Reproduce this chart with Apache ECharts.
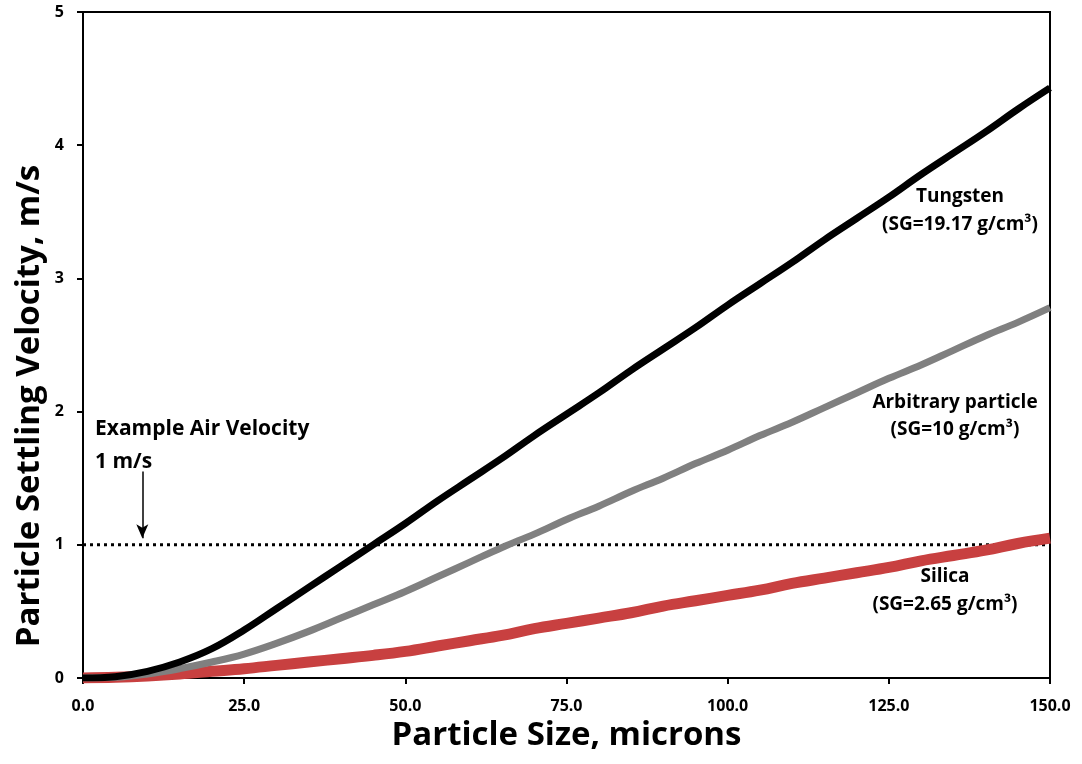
<!DOCTYPE html>
<html>
<head>
<meta charset="utf-8">
<script src="https://cdn.jsdelivr.net/npm/echarts@6/dist/echarts.min.js"></script>
<style>
  html, body { margin: 0; padding: 0; background: #fff; }
  #chart { width: 1082px; height: 764px; }
</style>
</head>
<body>
<div id="chart"></div>
<script>
// particle size, microns
const sizes = [0, 5, 10, 15, 20, 25, 30, 35, 40, 45, 50, 55, 60, 65, 70, 75,
  80, 85, 90, 95, 100, 105, 110, 115, 120, 125, 130, 135, 140, 145, 150];

// settling velocity, m/s
const tungsten = [0, 0.01, 0.05, 0.12, 0.22, 0.36, 0.52, 0.68, 0.84, 1.0, 1.16, 1.33, 1.49, 1.65, 1.82, 1.98,
  2.14, 2.31, 2.47, 2.63, 2.8, 2.96, 3.12, 3.29, 3.45, 3.61, 3.78, 3.94, 4.1, 4.27, 4.43];
const arbitrary = [0, 0.005, 0.03, 0.07, 0.12, 0.18, 0.26, 0.35, 0.45, 0.55, 0.65, 0.76, 0.87, 0.98, 1.08, 1.19,
  1.29, 1.4, 1.5, 1.61, 1.71, 1.82, 1.92, 2.03, 2.14, 2.25, 2.35, 2.46, 2.57, 2.67, 2.78];
const silica = [0, 0.005, 0.015, 0.03, 0.05, 0.07, 0.095, 0.12, 0.145, 0.17, 0.2, 0.24, 0.28, 0.32, 0.37, 0.41,
  0.45, 0.49, 0.54, 0.58, 0.62, 0.66, 0.71, 0.75, 0.79, 0.83, 0.88, 0.92, 0.96, 1.01, 1.05];

const airVelocity = 1;
const arrowX = 9.2;

const FONT = 'Open Sans';

function pairs(ys) {
  return sizes.map((x, i) => [x, ys[i]]);
}

function note(x, y, text, size, align) {
  return {
    type: 'text', x: x, y: y,
    style: { text: text, align: align || 'center', verticalAlign: 'middle', fontFamily: FONT, fontWeight: 'bold', fontSize: size, fill: '#000' }
  };
}

const myChart = echarts.init(document.getElementById('chart'));

const option = {
  backgroundColor: '#fff',
  animation: false,
  grid: {
    left: 83, top: 12, right: 32, bottom: 86,
    show: true, borderColor: '#000', borderWidth: 2
  },
  xAxis: {
    type: 'value', min: 0, max: 150, interval: 25,
    name: 'Particle Size, microns',
    nameLocation: 'middle', nameGap: 14,
    nameTextStyle: { fontFamily: FONT, fontWeight: 'bold', fontSize: 33, color: '#000' },
    axisLine: { lineStyle: { color: '#000', width: 2 } },
    axisTick: { inside: false, length: 6, lineStyle: { color: '#000', width: 2 } },
    axisLabel: {
      margin: 20, fontFamily: FONT, fontWeight: 'bold', fontSize: 16, color: '#000',
      formatter: v => v.toFixed(1)
    },
    splitLine: { show: false }
  },
  yAxis: {
    type: 'value', min: 0, max: 5, interval: 1,
    axisLine: { show: true, lineStyle: { color: '#000', width: 2 } },
    axisTick: { show: true, length: 6, lineStyle: { color: '#000', width: 2 } },
    axisLabel: { margin: 19, fontFamily: FONT, fontWeight: 'bold', fontSize: 16, color: '#000' },
    splitLine: { show: false }
  },
  series: [
    {
      name: 'Air velocity', type: 'line', showSymbol: false,
      data: [[0, airVelocity], [150, airVelocity]],
      lineStyle: { color: '#000', width: 3, type: [3, 4] },
      z: 1,
      markLine: {
        silent: true, symbol: ['none', 'arrow'], symbolSize: [9, 14],
        lineStyle: { color: '#000', width: 1.5, type: 'solid' },
        label: { show: false },
        data: [[{ coord: [arrowX, 1.55] }, { coord: [arrowX, 1.05] }]]
      }
    },
    {
      name: 'Silica', type: 'line', showSymbol: false, smooth: 0.4,
      data: pairs(silica),
      lineStyle: { color: '#c84040', width: 11 }, z: 2
    },
    {
      name: 'Arbitrary particle', type: 'line', showSymbol: false, smooth: 0.4,
      data: pairs(arbitrary),
      lineStyle: { color: '#808080', width: 7 }, z: 3
    },
    {
      name: 'Tungsten', type: 'line', showSymbol: false, smooth: 0.4,
      data: pairs(tungsten),
      lineStyle: { color: '#000', width: 7 }, z: 4
    }
  ],
  graphic: [
    {
      type: 'text', x: 30, y: 406, rotation: Math.PI / 2,
      style: { text: 'Particle Settling Velocity, m/s', align: 'center', verticalAlign: 'middle', fontFamily: FONT, fontWeight: 'bold', fontSize: 33, fill: '#000' }
    },
    note(95, 429, 'Example Air Velocity', 21, 'left'),
    note(95, 462, '1 m/s', 21, 'left'),
    note(960, 197, 'Tungsten', 19),
    note(960, 225, '(SG=19.17 g/cm³)', 19),
    note(955, 403, 'Arbitrary particle', 19),
    note(955, 430, '(SG=10 g/cm³)', 19),
    note(945, 577, 'Silica', 19),
    note(945, 605, '(SG=2.65 g/cm³)', 19)
  ]
};

myChart.setOption(option);

window.addEventListener('resize', () => {
  if (myChart) myChart.resize();
});
</script>
</body>
</html>
